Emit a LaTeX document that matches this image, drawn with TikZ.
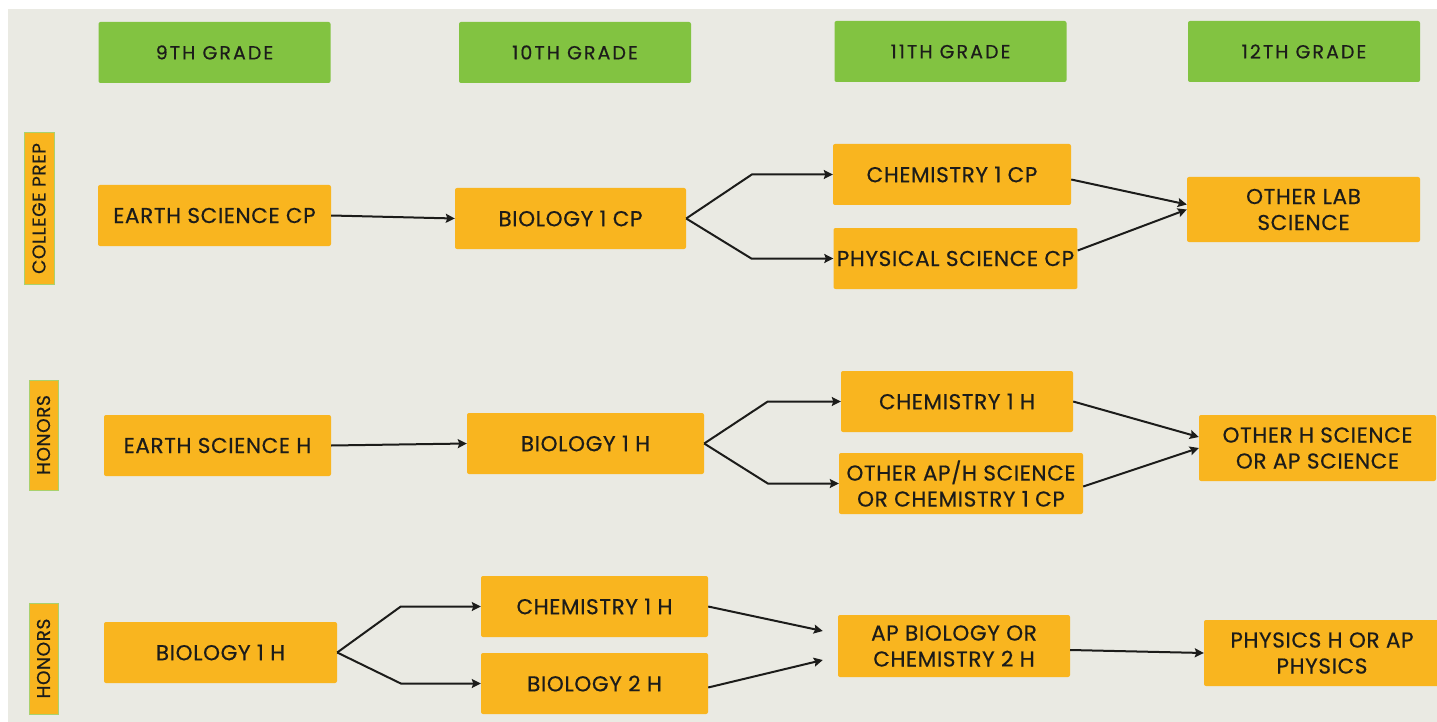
\documentclass[tikz,border=0pt]{standalone}
\usepackage{fontspec}
\setmainfont{Poppins}[LetterSpace=3, FakeBold=0.5]
\usetikzlibrary{arrows.meta}

\definecolor{pagegray}{HTML}{EAEAE3}
\definecolor{gradegreen}{HTML}{82C341}
\definecolor{courseorange}{HTML}{F9B51F}
\definecolor{trackedge}{HTML}{A9D16E}
\definecolor{inkblack}{HTML}{1C1C1A}

\tikzset{
  grade/.style={fill=gradegreen, rounded corners=2pt, minimum width=232pt,
    minimum height=61pt, text=inkblack,
    font=\fontsize{19}{22}\selectfont\addfontfeature{LetterSpace=11}},
  course/.style={fill=courseorange, rounded corners=2pt, minimum height=61pt,
    align=center, text=inkblack, font=\fontsize{21.5}{26}\selectfont},
  track/.style={fill=courseorange, draw=trackedge, line width=1pt, rotate=90,
    minimum height=29pt, inner sep=0pt, text=inkblack,
    font=\fontsize{18.5}{20}\selectfont},
  link/.style={->, line width=2pt, inkblack},
}

\begin{document}
\begin{tikzpicture}[x=1pt, y=-1pt, >={Stealth[length=9pt,width=9pt,inset=1.5pt]}]
  \useasboundingbox (0,0) rectangle (1437,722);
  \fill[white] (0,0) rectangle (1437,722);
  \fill[pagegray] (8,9) rectangle (1437,722);

  % grade headers
  \node[grade] (g9)  at (214.5,52.5) {9TH GRADE};
  \node[grade] (g10) at (575,52.5)   {10TH GRADE};
  \node[grade] (g11) at (950.5,51.5) {11TH GRADE};
  \node[grade] (g12) at (1304,51.5)  {12TH GRADE};

  % tracks
  \node[track, minimum width=151pt, minimum height=30pt] (cp) at (39,208.5) {COLLEGE PREP};
  \node[track, minimum width=110pt] (hon) at (43.5,435) {HONORS};
  \node[track, minimum width=111pt] (honx) at (43.5,658.5) {HONORS};

  % college prep
  \node[course, minimum width=233pt] (earthcp) at (214.5,215.5) {EARTH SCIENCE CP};
  \node[course, minimum width=231pt] (biocp)   at (570.5,218.5) {BIOLOGY 1 CP};
  \node[course, minimum width=238pt] (chemcp)  at (952,174.5)   {CHEMISTRY 1 CP};
  \node[course, minimum width=243pt] (physcp)  at (955.5,258.5) {PHYSICAL SCIENCE CP};
  \node[course, minimum width=233pt, minimum height=65pt] (labsci) at (1303.5,209.5) {OTHER LAB\\SCIENCE};

  \draw[link] (earthcp.east) -- (biocp.west);
  \draw[link] (biocp.east) -- ([xshift=-81pt]chemcp.west) -- (chemcp.west);
  \draw[link] (biocp.east) -- ([xshift=-82pt]physcp.west) -- (physcp.west);
  \draw[link] ([yshift=-5pt]chemcp.east) -- ([yshift=5pt]labsci.west);
  \draw[link] ([yshift=8pt]physcp.east) -- (labsci.west);

  % honors
  \node[course, minimum width=227pt] (earthh) at (217.5,445.5) {EARTH SCIENCE H};
  \node[course, minimum width=237pt] (bioh)   at (585.5,443.5) {BIOLOGY 1 H};
  \node[course, minimum width=232pt] (chemh)  at (957,401.5)   {CHEMISTRY 1 H};
  \node[course, minimum width=244pt] (otherap) at (961,483.5)  {OTHER AP/H SCIENCE\\OR CHEMISTRY 1 CP};
  \node[course, minimum width=237pt, minimum height=66pt] (hsci) at (1317.5,448) {OTHER H SCIENCE\\OR AP SCIENCE};

  \draw[link] (earthh.east) -- (bioh.west);
  \draw[link] (bioh.east) -- ([xshift=-73pt]chemh.west) -- (chemh.west);
  \draw[link] (bioh.east) -- ([xshift=-71pt]otherap.west) -- (otherap.west);
  \draw[link] (chemh.east) -- ([yshift=11pt]hsci.west);
  \draw[link] ([yshift=-3pt]otherap.east) -- (hsci.west);

  % honors, biology first
  \node[course, minimum width=233pt] (biohx)  at (220.5,652.5) {BIOLOGY 1 H};
  \node[course, minimum width=227pt] (chemhx) at (594.5,606.5) {CHEMISTRY 1 H};
  \node[course, minimum width=227pt] (bio2h)  at (594.5,683.5) {BIOLOGY 2 H};
  \node[course, minimum width=232pt, minimum height=62pt] (apbio) at (954,646) {AP BIOLOGY OR\\CHEMISTRY 2 H};
  \node[course, minimum width=236pt, minimum height=66pt] (physh) at (1322,653) {PHYSICS H OR AP\\PHYSICS};

  \draw[link] (biohx.east) -- ([xshift=-80pt]chemhx.west) -- (chemhx.west);
  \draw[link] (biohx.east) -- ([xshift=-80pt]bio2h.west) -- (bio2h.west);
  \draw[link] (chemhx.east) -- ([xshift=-15pt,yshift=15pt]apbio.west);
  \draw[link] ([yshift=-4pt]bio2h.east) -- ([xshift=-15pt,yshift=-14pt]apbio.west);
  \draw[link] ([yshift=-4pt]apbio.east) -- (physh.west);
\end{tikzpicture}
\end{document}
